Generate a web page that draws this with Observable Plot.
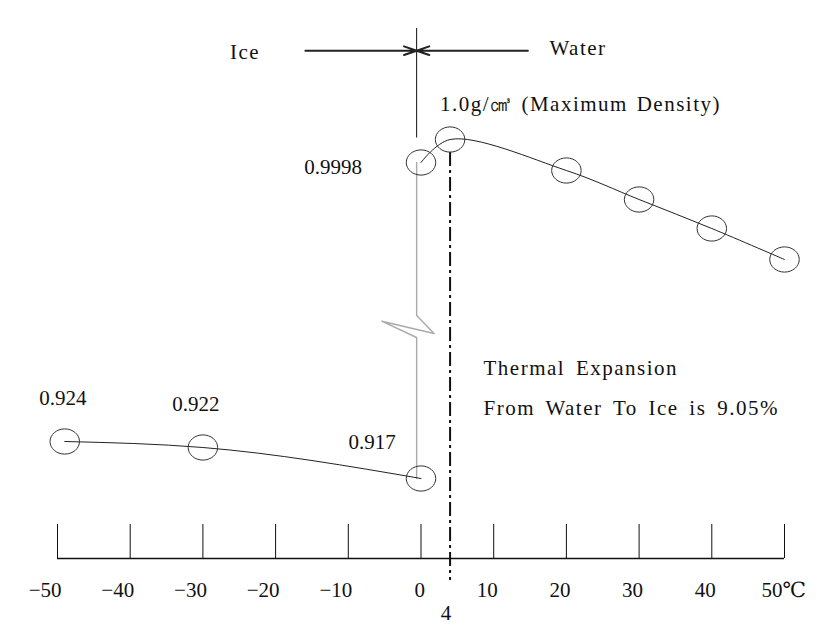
<!DOCTYPE html>
<html><head><meta charset="utf-8">
<script src="https://cdn.jsdelivr.net/npm/d3@7"></script>
<script src="https://cdn.jsdelivr.net/npm/@observablehq/plot@0.6"></script>
<style>body{margin:0;background:#fff} svg text{font-family:"Liberation Serif","Times New Roman",Times,"DejaVu Serif",serif}</style>
</head><body><div id="chart"></div>
<script>
// ---- data ----
const iceTemps = [-49, -30, 0];
const iceDensity = [0.924, 0.922, 0.917];
const iceLabels = ["0.924", "0.922", "0.917"];
const waterTemps = [0, 4, 20, 30, 40, 50];
const waterDensity = [0.9998, 1.0, 0.9982, 0.9957, 0.9922, 0.988];
const waterLabel = "0.9998";
const maxTemp = 4;
const maxDensity = 1.0;
const maxLabel = "1.0g/㎤ (Maximum Density)";
const xTicks = [-50, -40, -30, -20, -10, 0, 10, 20, 30, 40, 50];
const xTickLabels = ["−50", "−40", "−30", "−20", "−10", "0", "10", "20", "30", "40", "50"];
const xUnit = "℃";
const phaseX = -0.6;           // drawn phase boundary (≈0 °C)
const axisLevel = 0.90;        // baseline of the schematic
const topLevel = 1.01;         // top of the boundary line
const arrowLevel = 1.008;      // level of the Ice / Water arrows
const breakPath = [            // broken-axis zigzag on the boundary
  [phaseX, 0.917], [phaseX, 0.93], [-5.4, 0.967], [1.8, 0.939], [phaseX, 0.98], [phaseX, 0.9998]
];
const noteText = "Thermal Expansion\nFrom Water To Ice is 9.05%";
const notePos = [8.6, 0.9274];
const iceWord = {text: "Ice", x: -24.2};
const waterWord = {text: "Water", x: 21.6};

const ice = iceTemps.map((t, i) => ({t, d: iceDensity[i], label: iceLabels[i]}));
const water = waterTemps.map((t, i) => ({t, d: waterDensity[i]}));
const breakData = breakPath.map(([t, d]) => ({t, d}));
const ticks = xTicks.map((t, i) => ({t, label: xTickLabels[i]}));

// broken (piecewise) density axis of the schematic
const yMap = d3.scaleLinear()
  .domain([axisLevel, 0.917, 0.922, 0.924, 0.93, 0.98, 0.988, 0.9922, 0.9957, 0.9982, 0.9998, 1.0, topLevel])
  .range([558, 478, 447, 441, 337, 315, 259, 228, 199, 170, 162, 139, 28]);

const ellipse = {
  draw(ctx, size) {
    const r = Math.sqrt(size / Math.PI), rx = r * 1.17, ry = r, k = 0.5523;
    ctx.moveTo(rx, 0);
    ctx.bezierCurveTo(rx, ry * k, rx * k, ry, 0, ry);
    ctx.bezierCurveTo(-rx * k, ry, -rx, ry * k, -rx, 0);
    ctx.bezierCurveTo(-rx, -ry * k, -rx * k, -ry, 0, -ry);
    ctx.bezierCurveTo(rx * k, -ry, rx, -ry * k, rx, 0);
    ctx.closePath();
  }
};

const ink = "#111";
const fs = 21;
const ff = "Liberation Serif, Times New Roman, DejaVu Serif, serif";
const T = {fontSize: fs, fontFamily: ff, fill: ink};

const chart = Plot.plot({
  width: 840,
  height: 635,
  marginLeft: 57,
  marginRight: 56,
  marginTop: 0,
  marginBottom: 77,
  style: {fontFamily: ff, fontSize: "21px", background: "#fff", color: ink},
  x: {domain: [-50, 50], axis: null},
  y: {type: "identity", axis: null, transform: (d) => yMap(d)},
  marks: [
    // axis line and upward ticks
    Plot.ruleY([axisLevel], {y: (d) => d, x1: -50, x2: 50, stroke: ink, strokeWidth: 1.3}),
    Plot.ruleX(ticks, {x: "t", y1: axisLevel, y2: axisLevel, insetTop: -34, stroke: ink, strokeWidth: 1}),
    Plot.text(ticks.slice(0, -1), {x: "t", y: () => axisLevel, text: "label", textAnchor: "end", dx: 4, dy: 32, ...T}),
    Plot.text(ticks.slice(-1), {x: "t", y: () => axisLevel, text: "label", textAnchor: "end", dx: -2, dy: 32, ...T}),
    Plot.text(ticks.slice(-1), {x: "t", y: () => axisLevel, text: () => xUnit, textAnchor: "start", dx: -2, dy: 32, ...T}),
    Plot.text([{t: maxTemp}], {x: "t", y: () => axisLevel, text: (d) => String(d.t), dx: -4, dy: 55, ...T}),
    // 4 °C dash-dot line
    Plot.ruleX([maxTemp], {x: (d) => d, y1: maxDensity, y2: axisLevel, insetTop: 13, insetBottom: -22,
      stroke: ink, strokeWidth: 2, strokeDasharray: "14,4,3,4"}),
    // phase boundary
    Plot.ruleX([phaseX], {x: (d) => d, y1: topLevel, y2: maxDensity, insetBottom: 1.5, stroke: ink, strokeWidth: 1}),
    Plot.line(breakData, {x: "t", y: "d", stroke: "#aaa", strokeWidth: 1.4}),
    // Ice / Water arrows
    Plot.arrow([{a: -15.9}, {a: 14.7}], {x1: "a", x2: () => phaseX, y1: () => arrowLevel, y2: () => arrowLevel,
      stroke: "#222", strokeWidth: 2, headLength: 10, headAngle: 38}),
    Plot.text([iceWord], {x: "x", y: () => arrowLevel, text: "text", dy: 2, ...T}),
    Plot.text([waterWord], {x: "x", y: () => arrowLevel, text: "text", dy: -2, ...T}),
    // curves
    Plot.line(ice, {x: "t", y: "d", curve: "monotone-x", stroke: "#222", strokeWidth: 1}),
    Plot.line(water, {x: "t", y: "d", curve: "catmull-rom", stroke: "#222", strokeWidth: 1}),
    // markers
    Plot.dot(ice, {x: "t", y: "d", r: 12.6, symbol: ellipse, fill: "none", stroke: "#333", strokeWidth: 1}),
    Plot.dot(water, {x: "t", y: "d", r: 12.6, symbol: ellipse, fill: "none", stroke: "#333", strokeWidth: 1}),
    // value labels
    Plot.text([ice[0]], {x: "t", y: "d", text: "label", dx: -2, dy: -43, ...T}),
    Plot.text([ice[1]], {x: "t", y: "d", text: "label", dx: -7, dy: -43, ...T}),
    Plot.text([ice[2]], {x: "t", y: "d", text: "label", dx: -49, dy: -36, ...T}),
    Plot.text([water[0]], {x: "t", y: "d", text: () => waterLabel, textAnchor: "end", dx: -59, dy: 5, ...T}),
    Plot.text([water[1]], {x: "t", y: "d", text: () => maxLabel, textAnchor: "start", dx: -10, dy: -35, ...T}),
    // note
    Plot.text([notePos], {x: (d) => d[0], y: (d) => d[1], text: () => noteText, textAnchor: "start",
      lineAnchor: "middle", lineHeight: 1.9, ...T})
  ]
});

chart.querySelectorAll("text").forEach((el) => {
  el.style.fontFamily = '"Liberation Serif", "Times New Roman", "DejaVu Serif", serif';
  if (/[A-Za-z]/.test(el.textContent)) {
    el.style.letterSpacing = "1.5px";
    el.style.wordSpacing = el.textContent.includes("Expansion") ? "4px" : "2px";
  }
});
document.getElementById("chart").appendChild(chart);
</script>
</body></html>
